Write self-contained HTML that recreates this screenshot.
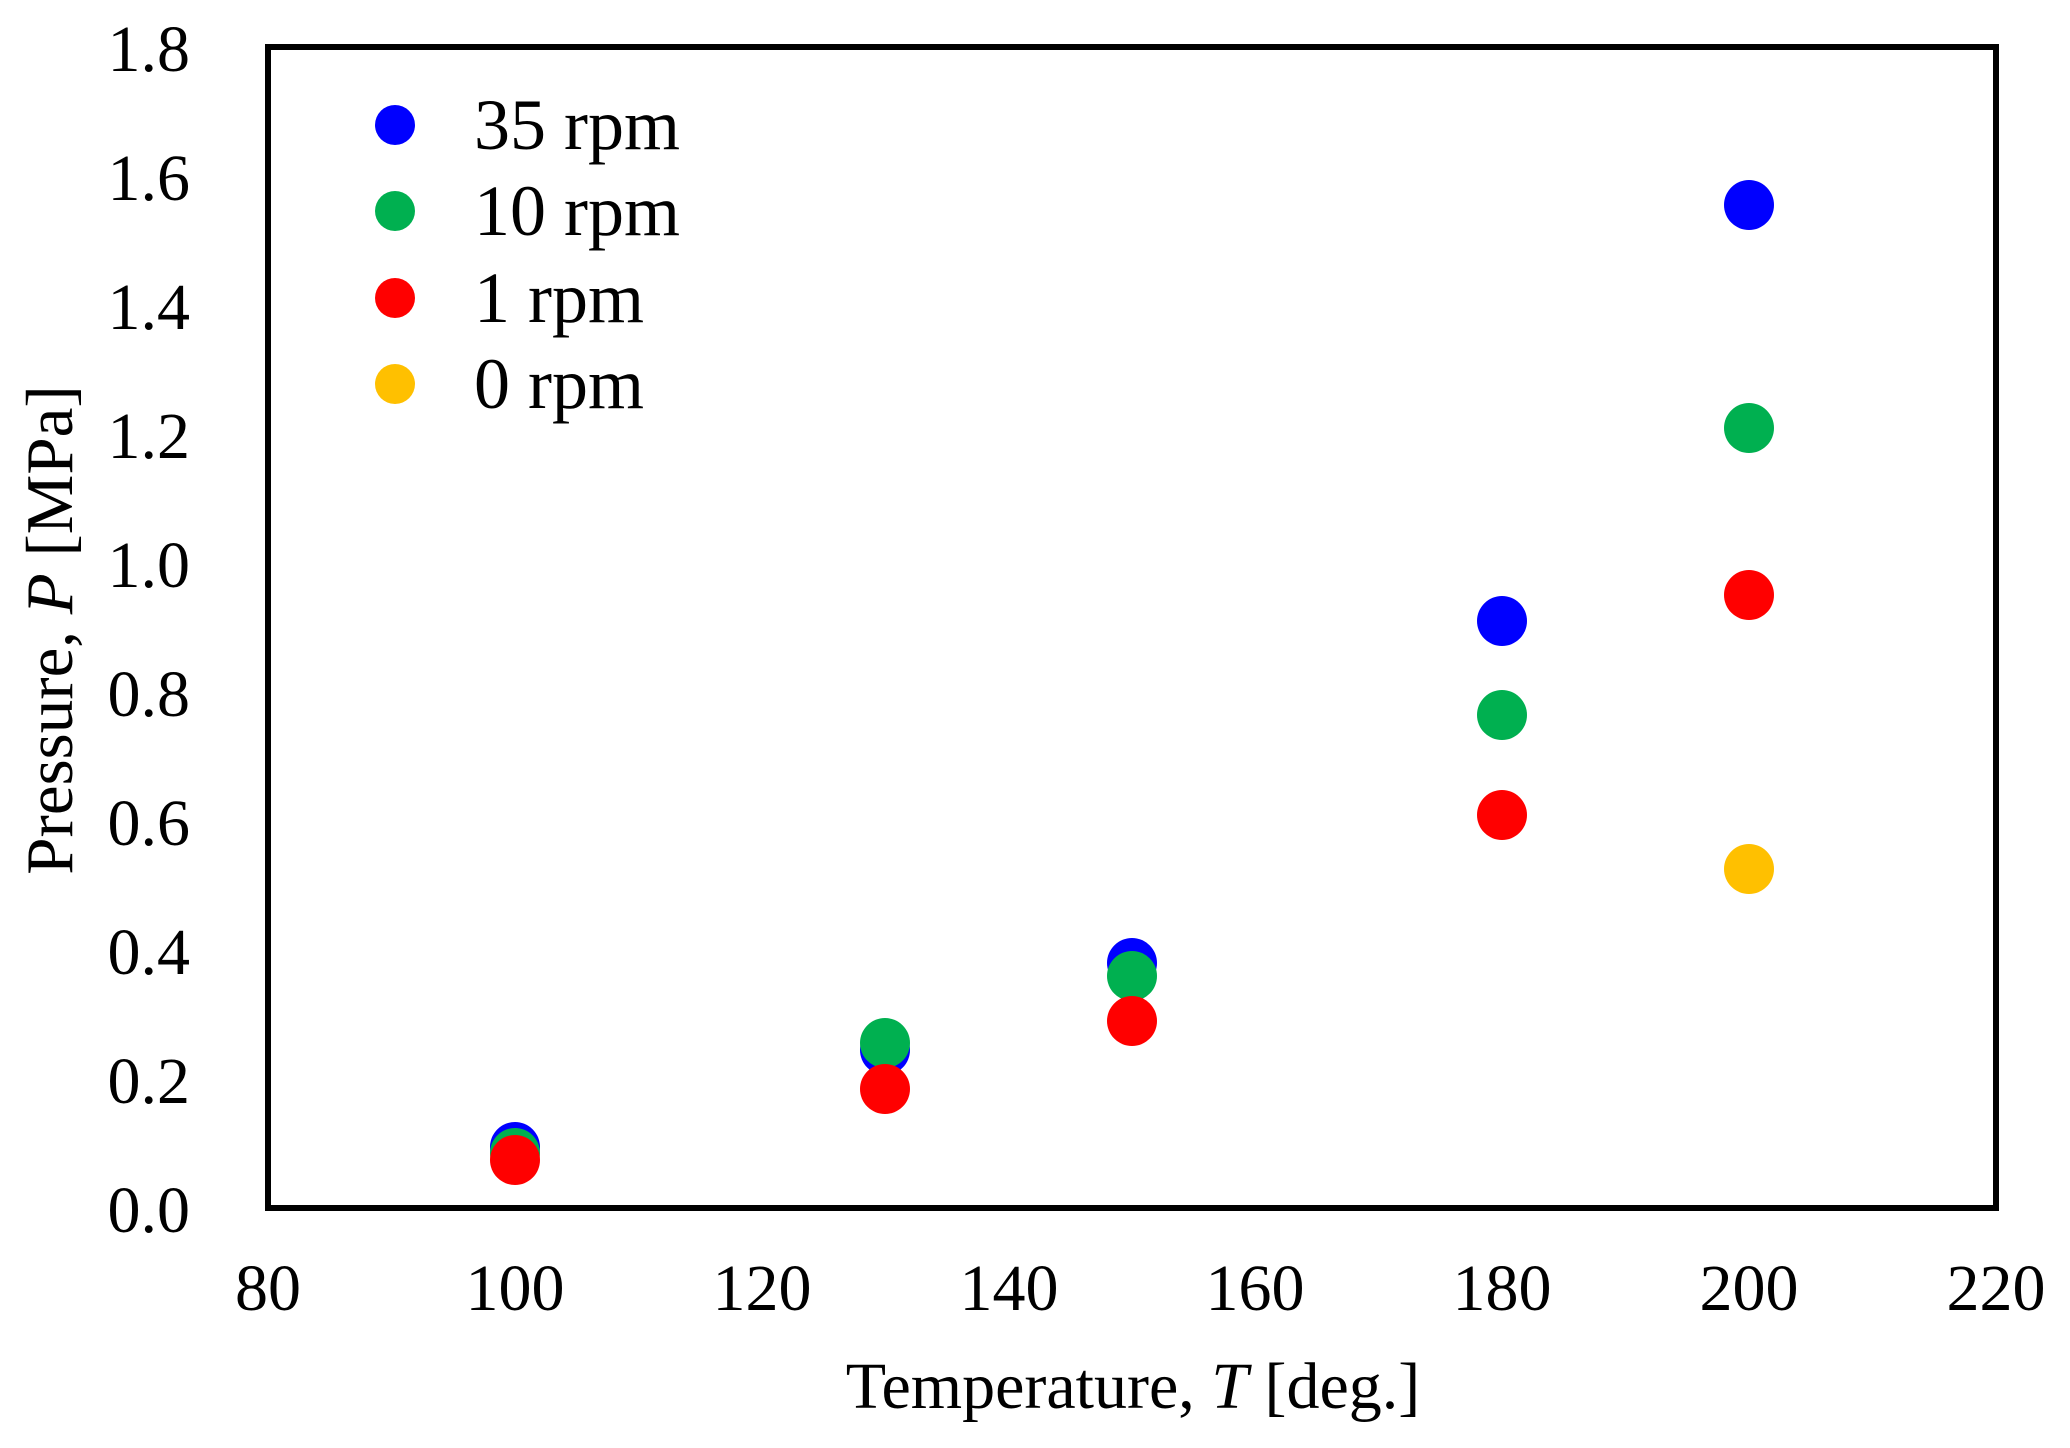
<!DOCTYPE html>
<html><head><meta charset="utf-8"><style>body{margin:0;background:#fff}</style></head>
<body>
<svg width="2070" height="1443" xmlns="http://www.w3.org/2000/svg" font-family="Liberation Serif, serif">
<rect x="268" y="47" width="1728" height="1161" fill="none" stroke="#000" stroke-width="6"/>
<g font-size="66" text-anchor="end">
<text x="190" y="1232">0.0</text>
<text x="190" y="1103">0.2</text>
<text x="190" y="974">0.4</text>
<text x="190" y="845">0.6</text>
<text x="190" y="716">0.8</text>
<text x="190" y="587">1.0</text>
<text x="190" y="458">1.2</text>
<text x="190" y="329">1.4</text>
<text x="190" y="200">1.6</text>
<text x="190" y="71">1.8</text>
</g>
<g font-size="66" text-anchor="middle">
<text x="268" y="1310">80</text>
<text x="515" y="1310">100</text>
<text x="762" y="1310">120</text>
<text x="1009" y="1310">140</text>
<text x="1255" y="1310">160</text>
<text x="1502" y="1310">180</text>
<text x="1749" y="1310">200</text>
<text x="1996" y="1310">220</text>
</g>
<text x="1133" y="1408" font-size="66" text-anchor="middle">Temperature, <tspan font-style="italic">T</tspan> [deg.]</text>
<text transform="translate(72,630) rotate(-90)" font-size="67" text-anchor="middle">Pressure, <tspan font-style="italic">P</tspan> [MPa]</text>
<g>
<circle cx="515" cy="1147" r="25" fill="#0000FF"/>
<circle cx="515" cy="1153" r="25" fill="#00B050"/>
<circle cx="515" cy="1160" r="25" fill="#FF0000"/>
<circle cx="885" cy="1050" r="25" fill="#0000FF"/>
<circle cx="885" cy="1043" r="25" fill="#00B050"/>
<circle cx="885" cy="1089" r="25" fill="#FF0000"/>
<circle cx="1132" cy="963" r="25" fill="#0000FF"/>
<circle cx="1132" cy="976" r="25" fill="#00B050"/>
<circle cx="1132" cy="1021" r="25" fill="#FF0000"/>
<circle cx="1502" cy="621" r="25" fill="#0000FF"/>
<circle cx="1502" cy="715" r="25" fill="#00B050"/>
<circle cx="1502" cy="815" r="25" fill="#FF0000"/>
<circle cx="1749" cy="205" r="25" fill="#0000FF"/>
<circle cx="1749" cy="428" r="25" fill="#00B050"/>
<circle cx="1749" cy="595" r="25" fill="#FF0000"/>
<circle cx="1749" cy="869" r="25" fill="#FFC000"/>
</g>
<g font-size="72">
<circle cx="395" cy="125" r="20" fill="#0000FF"/><text x="474" y="149">35 rpm</text>
<circle cx="395" cy="211" r="20" fill="#00B050"/><text x="474" y="235">10 rpm</text>
<circle cx="395" cy="298" r="20" fill="#FF0000"/><text x="474" y="322">1 rpm</text>
<circle cx="395" cy="384" r="20" fill="#FFC000"/><text x="474" y="408">0 rpm</text>
</g>
</svg>
</body></html>
